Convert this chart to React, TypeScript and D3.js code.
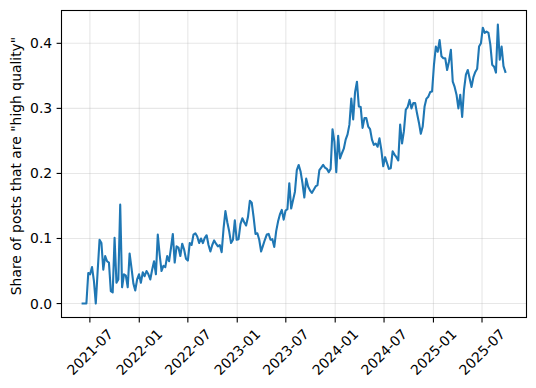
import React from 'react';
import * as d3 from 'd3';

// weekly share of "high quality" posts, first point on 2021-06-04
const firstWeek = '2021-06-04';

const share2021 = [
    0, 0, 0, 0.047, 0.045, 0.056, 0.035, 0, 0.05, 0.098, 0.093, 0.052, 0.073, 0.065, 0.063, 0.019,
    0.017, 0.101, 0.032, 0.037, 0.152, 0.025, 0.045, 0.043, 0.025, 0.077, 0.055, 0.031, 0.02, 0.037, 0.045,
];
const share2022 = [
    0.032, 0.048, 0.042, 0.05, 0.045, 0.037, 0.052, 0.065, 0.045, 0.106, 0.075, 0.05, 0.058, 0.056, 0.073,
    0.065, 0.085, 0.107, 0.063, 0.088, 0.086, 0.073, 0.092, 0.083, 0.069, 0.066, 0.093, 0.09, 0.106, 0.108,
    0.103, 0.093, 0.1, 0.093, 0.101, 0.105, 0.09, 0.08, 0.09, 0.097, 0.092, 0.088, 0.09, 0.079, 0.115,
    0.142, 0.125, 0.111, 0.093, 0.098, 0.128, 0.098,
];
const share2023 = [
    0.099, 0.122, 0.131, 0.125, 0.12, 0.133, 0.158, 0.155, 0.133, 0.107, 0.108, 0.098, 0.08, 0.089, 0.098,
    0.106, 0.107, 0.098, 0.099, 0.087, 0.111, 0.126, 0.137, 0.144, 0.129, 0.143, 0.145, 0.185, 0.146, 0.159,
    0.172, 0.205, 0.213, 0.203, 0.185, 0.163, 0.192, 0.18, 0.174, 0.17, 0.175, 0.18, 0.182, 0.205, 0.209,
    0.213, 0.209, 0.207, 0.202, 0.207, 0.268, 0.249,
];
const share2024 = [
    0.202, 0.258, 0.223, 0.231, 0.238, 0.252, 0.26, 0.275, 0.315, 0.283, 0.325, 0.341, 0.303, 0.302, 0.27,
    0.285, 0.285, 0.272, 0.268, 0.252, 0.244, 0.246, 0.241, 0.254, 0.236, 0.211, 0.225, 0.216, 0.207, 0.208,
    0.234, 0.229, 0.225, 0.22, 0.275, 0.246, 0.265, 0.298, 0.302, 0.313, 0.3, 0.308, 0.308, 0.292, 0.278,
    0.261, 0.272, 0.303, 0.315, 0.318, 0.325, 0.326,
];
const share2025 = [
    0.367, 0.395, 0.387, 0.405, 0.38, 0.377, 0.377, 0.359, 0.372, 0.39, 0.341, 0.333, 0.321, 0.3, 0.321,
    0.287, 0.329, 0.352, 0.359, 0.346, 0.333, 0.348, 0.356, 0.361, 0.395, 0.4, 0.424, 0.416, 0.418, 0.416,
    0.398, 0.367, 0.364, 0.355, 0.429, 0.375, 0.395, 0.365, 0.356,
];

const xTickDates = [
    '2021-07-01', '2022-01-01', '2022-07-01', '2023-01-01', '2023-07-01',
    '2024-01-01', '2024-07-01', '2025-01-01', '2025-07-01',
];
const yTickValues = [0, 0.1, 0.2, 0.3, 0.4];
const yLabel = 'Share of posts that are "high quality"';

const App = () => {
    const width = 536;
    const height = 388;
    const margin = { top: 10.5, right: 9.5, bottom: 70.5, left: 61.5 };
    const x0 = margin.left;
    const x1 = width - margin.right;
    const y0 = height - margin.bottom;
    const y1 = margin.top;

    const parse = d3.utcParse('%Y-%m-%d');
    const start = parse(firstWeek) as Date;
    const values = [...share2021, ...share2022, ...share2023, ...share2024, ...share2025];
    const data = values.map((v, i) => ({ date: d3.utcDay.offset(start, 7 * i), v }));

    // matplotlib style 5% margins around the data
    const [dMin, dMax] = d3.extent(data, d => d.date) as [Date, Date];
    const dPad = (+dMax - +dMin) * 0.05;
    const xScale = d3.scaleUtc()
        .domain([new Date(+dMin - dPad), new Date(+dMax + dPad)])
        .range([x0, x1]);

    const [vMin, vMax] = d3.extent(values) as [number, number];
    const vPad = (vMax - vMin) * 0.05;
    const yScale = d3.scaleLinear()
        .domain([vMin - vPad, vMax + vPad])
        .range([y0, y1]);

    const line = d3.line<{ date: Date; v: number }>()
        .x(d => xScale(d.date))
        .y(d => yScale(d.v));

    const fmt = d3.utcFormat('%Y-%m');
    const xTicks = xTickDates.map(s => parse(s) as Date);
    const font = 'DejaVu Sans, sans-serif';

    return (
        <svg width={width} height={height} style={{ position: 'absolute', left: 0, top: 0 }}
            fontFamily={font}>
            <rect x={0} y={0} width={width} height={height} fill="white" />
            <clipPath id="plotClip">
                <rect x={x0} y={y1} width={x1 - x0} height={y0 - y1} />
            </clipPath>
            {/* grid */}
            <g stroke="#b0b0b0" strokeOpacity={0.3} strokeWidth={1.1}>
                {xTicks.map((t, i) => (
                    <line key={'gx' + i} x1={xScale(t)} x2={xScale(t)} y1={y1} y2={y0} />
                ))}
                {yTickValues.map((t, i) => (
                    <line key={'gy' + i} x1={x0} x2={x1} y1={yScale(t)} y2={yScale(t)} />
                ))}
            </g>
            <path d={line(data) || ''} fill="none" stroke="#1f77b4" strokeWidth={2.1}
                strokeLinejoin="round" strokeLinecap="square" clipPath="url(#plotClip)" />
            {/* spines */}
            <rect x={x0} y={y1} width={x1 - x0} height={y0 - y1} fill="none" stroke="black" strokeWidth={1.1} />
            {/* x ticks */}
            {xTicks.map((t, i) => (
                <g key={'xt' + i}>
                    <line x1={xScale(t)} x2={xScale(t)} y1={y0} y2={y0 + 4.9} stroke="black" strokeWidth={1.1} />
                    <text x={xScale(t)} y={352} fontSize={13.9} textAnchor="middle" dominantBaseline="central"
                        transform={`rotate(-45, ${xScale(t)}, 352)`} fill="black">
                        {fmt(t)}
                    </text>
                </g>
            ))}
            {/* y ticks */}
            {yTickValues.map((t, i) => (
                <g key={'yt' + i}>
                    <line x1={x0 - 4.9} x2={x0} y1={yScale(t)} y2={yScale(t)} stroke="black" strokeWidth={1.1} />
                    <text x={x0 - 9.3} y={yScale(t)} fontSize={13.9} textAnchor="end" dominantBaseline="central"
                        fill="black">
                        {d3.format('.1f')(t)}
                    </text>
                </g>
            ))}
            <text x={20.5} y={166} fontSize={13.9} textAnchor="middle" fill="black"
                transform="rotate(-90, 20.5, 166)">
                {yLabel}
            </text>
        </svg>
    );
};

export default App;
